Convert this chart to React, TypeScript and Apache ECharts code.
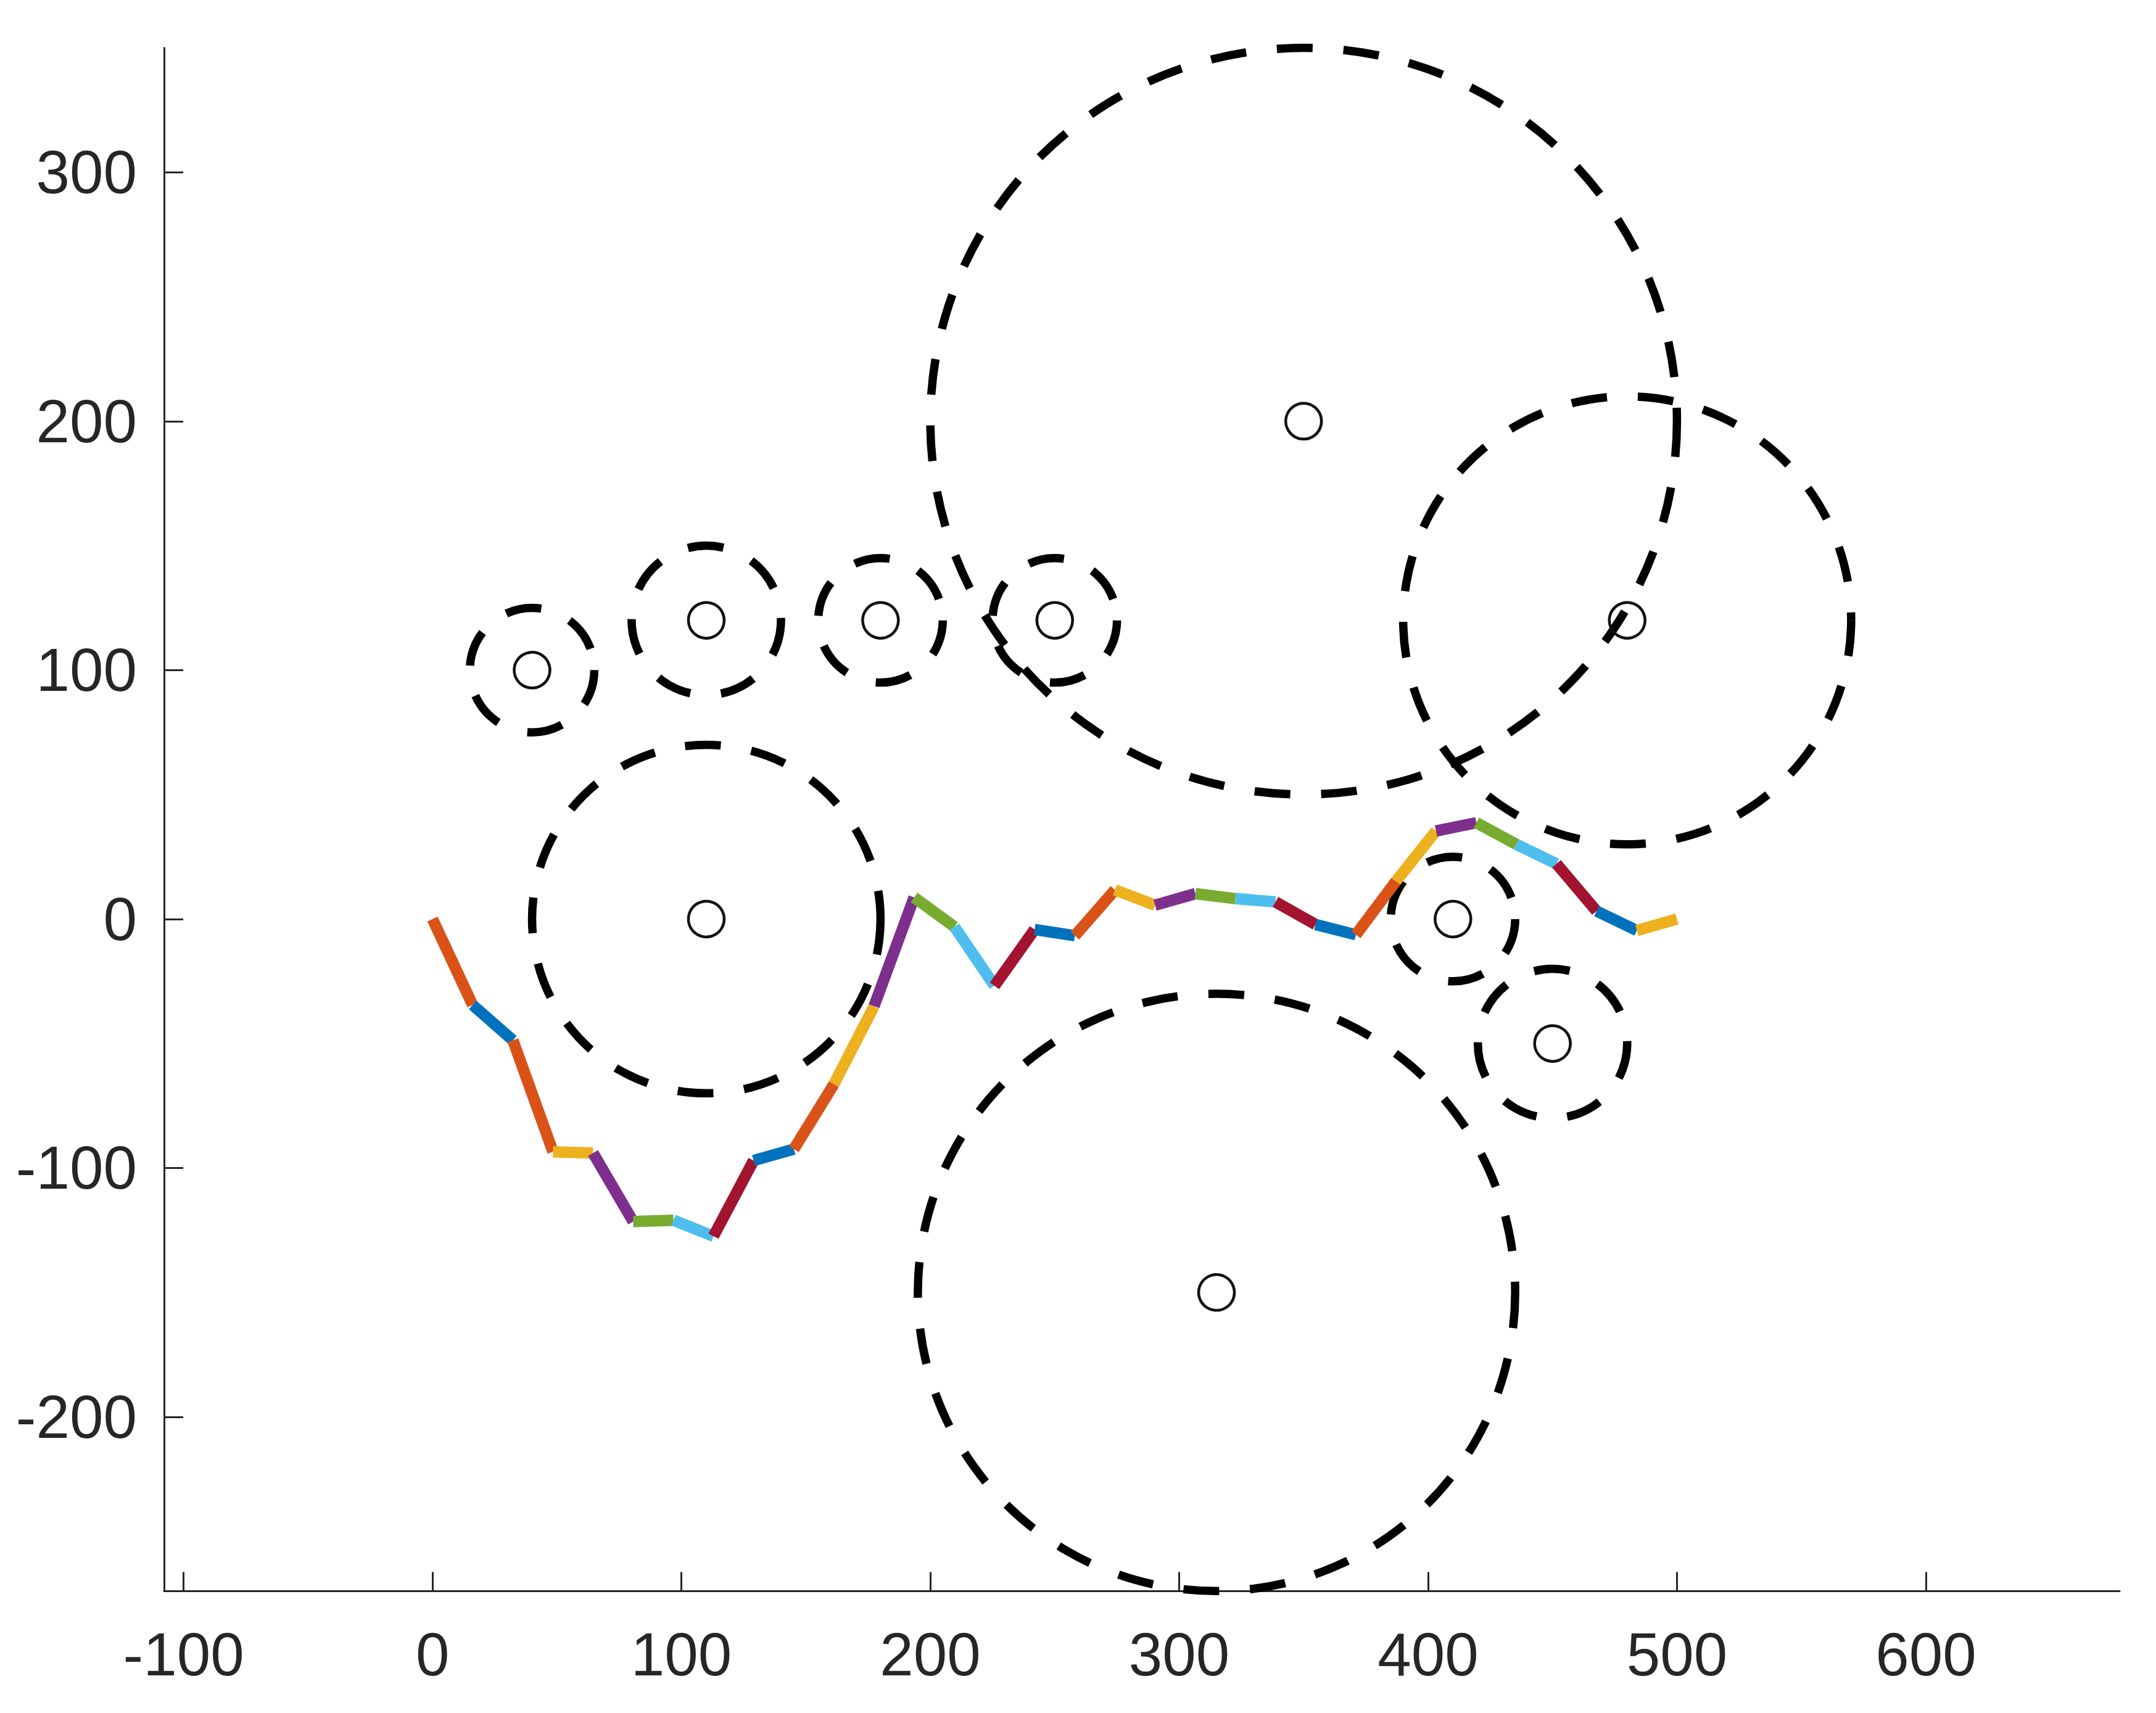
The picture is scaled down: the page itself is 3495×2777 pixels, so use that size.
import React, { useEffect, useRef } from "react";
import * as echarts from "echarts";

// Axis limits (axis equal)
const xMin = -107.85;
const xMax = 677.85;
const yMin = -270;
const yMax = 350;
const xTicks = [-100, 0, 100, 200, 300, 400, 500, 600];
const yTicks = [-200, -100, 0, 100, 200, 300];

// Obstacles: centres and radii
const obsX = [40, 110, 180, 250, 350, 480, 110, 410, 450, 315];
const obsY = [100, 120, 120, 120, 200, 120, 0, 0, -50, -150];
const obsR = [25, 30, 25, 25, 150, 90, 70, 25, 30, 120];

// Path points
const pathX = [
  0, 16.1, 32.3, 48.4, 64.5, 80.6, 96.8, 112.9, 129.0, 145.2, 161.3, 177.4, 193.5, 209.7, 225.8, 241.9,
  258.1, 274.2, 290.3, 306.5, 322.6, 338.7, 354.8, 371.0, 387.1, 403.2, 419.4, 435.5, 451.6, 467.7, 483.9, 500,
];
const pathY = [
  0, -34.5, -48.7, -93.5, -94, -121.5, -121, -127.4, -97, -92.4, -66.3, -35, 8.7, -3.1, -26.8, -4.2,
  -6.7, 11.7, 5.6, 10.2, 8.2, 6.9, -2.2, -6.3, 15.2, 35.4, 38.7, 30, 22.2, 3.2, -4.6, 0,
];

const palette = ["#0072BD", "#D95319", "#EDB120", "#7E2F8E", "#77AC30", "#4DBEEE", "#A2142F"];
// colour index of each segment
const segColors = [1, 0, 1, 2, 3, 4, 5, 6, 0, 1, 2, 3, 4, 5, 6, 0, 1, 2, 3, 4, 5, 6, 0, 1, 2, 3, 4, 5, 6, 0, 2];

const TEXT = "#262626";

export default function App() {
  const ref = useRef<HTMLDivElement>(null);
  useEffect(() => {
    if (!ref.current) return;
    const chart = echarts.init(ref.current, null, { renderer: "svg" });

    const obsData = obsX.map((x, i) => [x, obsY[i], obsR[i]]);
    const segData = segColors.map((c, i) => [pathX[i], pathY[i], pathX[i + 1], pathY[i + 1], c]);

    const axisCommon = {
      axisLine: { show: true, onZero: false, lineStyle: { color: TEXT, width: 3 } },
      axisTick: { show: true, inside: true, length: 31, lineStyle: { color: TEXT, width: 3 } },
      splitLine: { show: false },
    };

    chart.setOption({
      animation: false,
      backgroundColor: "#ffffff",
      grid: { left: 266, top: 77.5, width: 3170, height: 2502, containLabel: false },
      xAxis: {
        type: "value",
        min: xMin,
        max: xMax,
        ...axisCommon,
        axisTick: { ...axisCommon.axisTick, customValues: xTicks },
        axisLabel: {
          customValues: xTicks,
          color: TEXT,
          fontSize: 98,
          lineHeight: 98,
          fontFamily: "Liberation Sans, Arial, sans-serif",
          margin: 53,
        },
      },
      yAxis: {
        type: "value",
        min: yMin,
        max: yMax,
        ...axisCommon,
        axisTick: { ...axisCommon.axisTick, customValues: yTicks },
        axisLabel: {
          customValues: yTicks,
          color: TEXT,
          fontSize: 98,
          lineHeight: 98,
          fontFamily: "Liberation Sans, Arial, sans-serif",
          margin: 44,
        },
      },
      series: [
        {
          type: "custom",
          name: "obstacles",
          data: obsData,
          encode: { x: 0, y: 1 },
          clip: false,
          renderItem: (params: any, api: any) => {
            const c = api.coord([api.value(0), api.value(1)]);
            const r = api.size([api.value(2), 0])[0];
            return {
              type: "circle",
              shape: { cx: c[0], cy: c[1], r },
              style: { fill: "none", stroke: "#000000", lineWidth: 13.5, lineDash: [58, 50] },
            };
          },
        },
        {
          type: "custom",
          name: "centres",
          data: obsData,
          encode: { x: 0, y: 1 },
          clip: false,
          renderItem: (params: any, api: any) => {
            const c = api.coord([api.value(0), api.value(1)]);
            return {
              type: "circle",
              shape: { cx: c[0], cy: c[1], r: 29 },
              style: { fill: "none", stroke: "#111111", lineWidth: 4.5 },
            };
          },
        },
        {
          type: "custom",
          name: "path",
          data: segData,
          encode: { x: [0, 2], y: [1, 3] },
          clip: false,
          renderItem: (params: any, api: any) => {
            const p0 = api.coord([api.value(0), api.value(1)]);
            const p1 = api.coord([api.value(2), api.value(3)]);
            const col = palette[segColors[params.dataIndex]];
            return {
              type: "line",
              shape: { x1: p0[0], y1: p0[1], x2: p1[0], y2: p1[1] },
              style: { stroke: col, lineWidth: 18.5, lineCap: "butt" },
            };
          },
        },
      ],
    });
    return () => chart.dispose();
  }, []);

  return (
    <div
      ref={ref}
      style={{ position: "absolute", left: 0, top: 0, width: 3495, height: 2777, background: "#fff" }}
    />
  );
}
